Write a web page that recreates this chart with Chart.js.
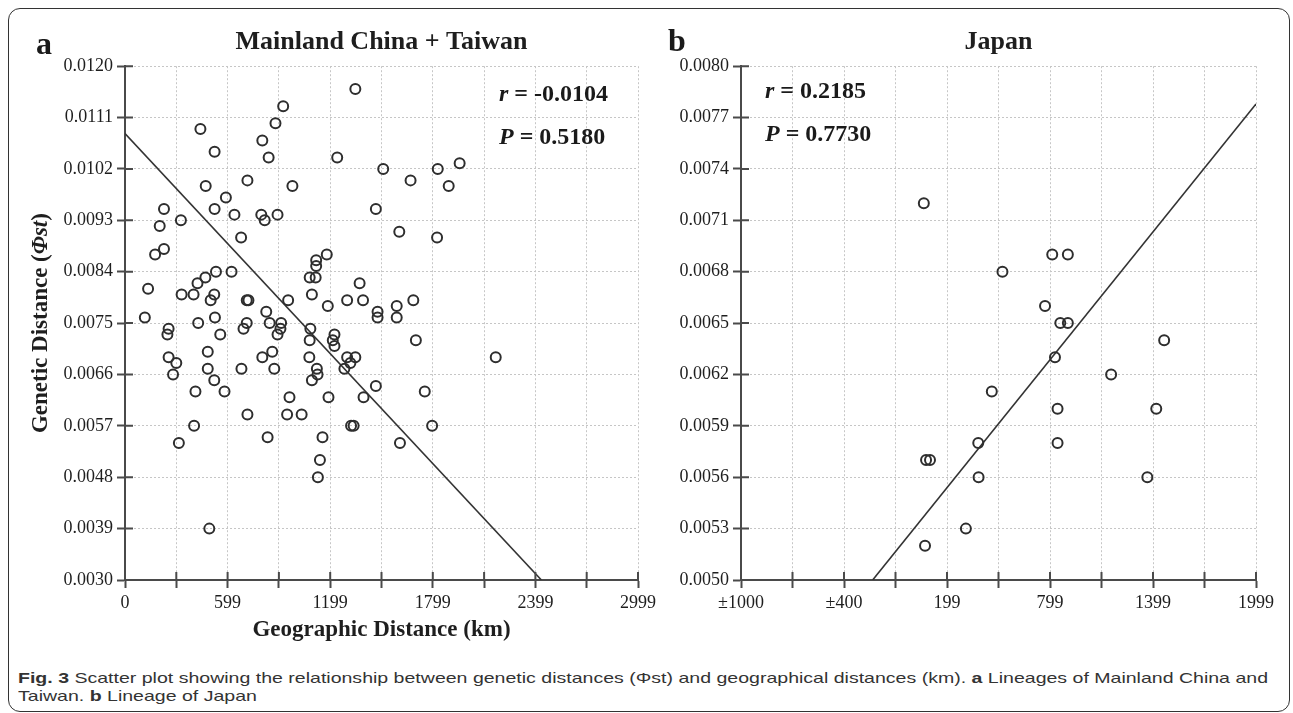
<!DOCTYPE html>
<html>
<head>
<meta charset="utf-8">
<script src="https://cdn.jsdelivr.net/npm/chart.js@4.4.1/dist/chart.umd.min.js"></script>
<style>
  body { margin: 0; background: #fff; }
  #page { position: relative; width: 1293px; height: 713px; overflow: hidden; background: #fff; }
  #frame { position: absolute; left: 8px; top: 8px; width: 1282px; height: 704px; border: 1.5px solid #333; border-radius: 12px; box-sizing: border-box; }
  canvas { position: absolute; top: 0; }
  .lbl { position: absolute; font-family: 'Liberation Serif', 'Times New Roman', serif; font-weight: bold; color: #1a1a1a; line-height: 1; white-space: nowrap; }
  .cap { position: absolute; left: 18px; font-family: 'Liberation Sans', Arial, sans-serif; font-size: 15px; line-height: 1; color: #333; white-space: nowrap; transform-origin: 0 0; }
</style>
</head>
<body>
<div id="page">
  <div id="frame"></div>
  <canvas id="chartA" width="660" height="650" style="left:0"></canvas>
  <canvas id="chartB" width="630" height="650" style="left:660px"></canvas>

  <div class="lbl" style="left:36px;top:27px;font-size:32px">a</div>
  <div class="lbl" style="left:668px;top:24px;font-size:32px">b</div>

  <div class="lbl" style="left:499px;top:81px;font-size:24px"><i>r</i> = -0.0104</div>
  <div class="lbl" style="left:499px;top:124px;font-size:24px"><i>P</i> = 0.5180</div>
  <div class="lbl" style="left:765px;top:78px;font-size:24px"><i>r</i> = 0.2185</div>
  <div class="lbl" style="left:765px;top:121px;font-size:24px"><i>P</i> = 0.7730</div>

  <div class="cap" id="cap1" style="top:670px"><b>Fig. 3</b> Scatter plot showing the relationship between genetic distances (Φst) and geographical distances (km). <b>a</b> Lineages of Mainland China and</div>
  <div class="cap" id="cap2" style="top:688px">Taiwan. <b>b</b> Lineage of Japan</div>
</div>

<script>
// panel a: Mainland China + Taiwan
const distA = [925, 441, 880, 803, 524, 840, 716, 472, 979, 590,
  228, 524, 640, 797, 817, 892, 327, 203, 679, 228,
  176, 532, 623, 470, 424, 135, 331, 401, 522, 501,
  712, 722, 954, 826, 116, 1080, 1115, 1118, 1118, 1180,
  1093, 1186, 1347, 1241, 1510, 1670, 1829, 1957, 1893, 1467,
  1604, 1825, 1372, 1299, 1392, 1686, 1477, 1477, 1589, 1589,
  255, 248, 428, 526, 557, 712, 693, 846, 913, 909,
  892, 1084, 1080, 255, 300, 281, 484, 484, 522, 412,
  582, 681, 803, 861, 873, 716, 948, 1033, 962, 1078,
  1122, 1126, 1093, 1190, 404, 315, 834, 1155, 1140, 1128,
  493, 1701, 2168, 1225, 1215, 1225, 1299, 1347, 1318, 1283,
  1395, 1467, 1753, 1322, 1337, 1796, 1608];
const phiA = [0.0113, 0.0109, 0.0110, 0.0107, 0.0105, 0.0104, 0.0100, 0.0099, 0.0099, 0.0097,
  0.0095, 0.0095, 0.0094, 0.0094, 0.0093, 0.0094, 0.0093, 0.0092, 0.0090, 0.0088,
  0.0087, 0.0084, 0.0084, 0.0083, 0.0082, 0.0081, 0.0080, 0.0080, 0.0080, 0.0079,
  0.0079, 0.0079, 0.0079, 0.0077, 0.0076, 0.0083, 0.0083, 0.0085, 0.0086, 0.0087,
  0.0080, 0.0078, 0.0116, 0.0104, 0.0102, 0.0100, 0.0102, 0.0103, 0.0099, 0.0095,
  0.0091, 0.0090, 0.0082, 0.0079, 0.0079, 0.0079, 0.0077, 0.0076, 0.0078, 0.0076,
  0.0074, 0.0073, 0.0075, 0.0076, 0.0073, 0.0075, 0.0074, 0.0075, 0.0075, 0.0074,
  0.0073, 0.0074, 0.0072, 0.0069, 0.0068, 0.0066, 0.0070, 0.0067, 0.0065, 0.0063,
  0.0063, 0.0067, 0.0069, 0.0070, 0.0067, 0.0059, 0.0059, 0.0059, 0.0062, 0.0069,
  0.0067, 0.0066, 0.0065, 0.0062, 0.0057, 0.0054, 0.0055, 0.0055, 0.0051, 0.0048,
  0.0039, 0.0072, 0.0069, 0.0073, 0.0072, 0.0071, 0.0069, 0.0069, 0.0068, 0.0067,
  0.0062, 0.0064, 0.0063, 0.0057, 0.0057, 0.0057, 0.0054];
const fitAx = [0, 2435];
const fitAy = [0.01082, 0.0030];

const xTicksA = [0, 300, 600, 900, 1200, 1500, 1800, 2100, 2400, 2700, 3000];
const xLabelsA = ['0', '', '599', '', '1199', '', '1799', '', '2399', '', '2999'];
const yTicksA = [0.0030, 0.0039, 0.0048, 0.0057, 0.0066, 0.0075, 0.0084, 0.0093, 0.0102, 0.0111, 0.0120];
const yLabelsA = ['0.0030', '0.0039', '0.0048', '0.0057', '0.0066', '0.0075', '0.0084', '0.0093', '0.0102', '0.0111', '0.0120'];

// panel b: Japan
const distB = [64, 812, 903, 522, 770, 859, 903, 1464, 828, 1155, 460, 843, 1418, 381, 843, 77, 100, 383, 1366, 309, 71];
const phiB = [0.0072, 0.0069, 0.0069, 0.0068, 0.0066, 0.0065, 0.0065, 0.0064, 0.0063, 0.0062, 0.0061,
  0.0060, 0.0060, 0.0058, 0.0058, 0.0057, 0.0057, 0.0056, 0.0056, 0.0053, 0.0052];
const fitBx = [-234, 1999];
const fitBy = [0.0050, 0.00778];

const xTicksB = [-1001, -701, -401, -101, 199, 499, 799, 1099, 1399, 1699, 1999];
const xLabelsB = ['±1000', '', '±400', '', '199', '', '799', '', '1399', '', '1999'];
const yTicksB = [0.0050, 0.0053, 0.0056, 0.0059, 0.0062, 0.0065, 0.0068, 0.0071, 0.0074, 0.0077, 0.0080];
const yLabelsB = ['0.0050', '0.0053', '0.0056', '0.0059', '0.0062', '0.0065', '0.0068', '0.0071', '0.0074', '0.0077', '0.0080'];

const serif = "'Liberation Serif', 'Times New Roman', serif";
const ink = '#1e1e1e';
const axisColor = '#4a4a4a';
const gridColor = '#c6c6c6';

function pts(xs, ys) {
  return xs.map((x, i) => ({ x: x, y: ys[i] }));
}

// short tick marks that cross the axis line (inside part)
const crossTicks = {
  id: 'crossTicks',
  afterDraw(chart) {
    const { ctx, chartArea, scales } = chart;
    ctx.save();
    ctx.strokeStyle = axisColor;
    ctx.lineWidth = 2;
    ctx.beginPath();
    scales.x.ticks.forEach((t, i) => {
      const px = scales.x.getPixelForTick(i);
      ctx.moveTo(px, chartArea.bottom);
      ctx.lineTo(px, chartArea.bottom - 8);
    });
    scales.y.ticks.forEach((t, i) => {
      const py = scales.y.getPixelForTick(i);
      ctx.moveTo(chartArea.left, py);
      ctx.lineTo(chartArea.left + 8, py);
    });
    ctx.stroke();
    ctx.restore();
  }
};

// y axis title with the italic Φst part
const yTitle = {
  id: 'yTitle',
  afterDraw(chart, args, opts) {
    if (!opts.parts) return;
    const { ctx, chartArea } = chart;
    const fonts = opts.parts.map(p => (p.italic ? 'italic ' : '') + 'bold 23px ' + serif);
    ctx.save();
    let total = 0;
    const widths = opts.parts.map((p, i) => { ctx.font = fonts[i]; const w = ctx.measureText(p.text).width; total += w; return w; });
    ctx.translate(opts.x, (chartArea.top + chartArea.bottom) / 2);
    ctx.rotate(-Math.PI / 2);
    ctx.fillStyle = ink;
    ctx.textBaseline = 'middle';
    let pos = -total / 2;
    opts.parts.forEach((p, i) => {
      ctx.font = fonts[i];
      ctx.fillText(p.text, pos, 0);
      pos += widths[i];
    });
    ctx.restore();
  }
};

function makeChart(id, o) {
  return new Chart(document.getElementById(id), {
    type: 'scatter',
    data: {
      datasets: [
        {
          data: pts(o.xs, o.ys),
          pointRadius: 5,
          pointHoverRadius: 5,
          pointBorderWidth: 2,
          borderColor: '#2e2e2e',
          backgroundColor: 'rgba(0,0,0,0)'
        },
        {
          data: pts(o.fitX, o.fitY),
          showLine: true,
          pointRadius: 0,
          borderColor: '#333',
          borderWidth: 1.6
        }
      ]
    },
    options: {
      responsive: false,
      animation: false,
      devicePixelRatio: 1,
      layout: { padding: { left: 0, right: o.padRight, top: 0, bottom: 0 } },
      plugins: {
        legend: { display: false },
        tooltip: { enabled: false },
        title: {
          display: true,
          text: o.title,
          fullSize: false,
          color: ink,
          font: { family: serif, size: 26, weight: 'bold' },
          padding: { top: 27, bottom: 8 }
        },
        yTitle: { x: 41, parts: o.yTitleParts }
      },
      scales: {
        x: {
          type: 'linear',
          min: o.xTicks[0],
          max: o.xTicks[o.xTicks.length - 1],
          afterBuildTicks: s => { s.ticks = o.xTicks.map(v => ({ value: v })); },
          afterFit: s => { s.height = 70; },
          ticks: {
            callback: (v, i) => o.xLabels[i],
            autoSkip: false,
            maxRotation: 0,
            padding: 4,
            color: ink,
            font: { family: serif, size: 18 }
          },
          grid: { color: gridColor, lineWidth: 1, tickLength: 8, tickColor: axisColor, tickWidth: 2 },
          border: { color: axisColor, width: 2, dash: [2, 2] },
          title: {
            display: o.xTitle !== '',
            text: o.xTitle,
            color: ink,
            font: { family: serif, size: 23, weight: 'bold' },
            padding: { top: 0, bottom: 6 }
          }
        },
        y: {
          type: 'linear',
          min: o.yTicks[0],
          max: o.yTicks[o.yTicks.length - 1],
          afterBuildTicks: s => { s.ticks = o.yTicks.map(v => ({ value: v })); },
          afterFit: s => { s.width = o.yWidth; },
          ticks: {
            callback: (v, i) => o.yLabels[i],
            padding: 4,
            color: ink,
            font: { family: serif, size: 18 }
          },
          grid: { color: gridColor, lineWidth: 1, tickLength: 8, tickColor: axisColor, tickWidth: 2 },
          border: { color: axisColor, width: 2, dash: [2, 2] }
        }
      }
    },
    plugins: [crossTicks, yTitle]
  });
}

makeChart('chartA', {
  xs: distA, ys: phiA, fitX: fitAx, fitY: fitAy,
  xTicks: xTicksA, xLabels: xLabelsA, yTicks: yTicksA, yLabels: yLabelsA,
  title: 'Mainland China + Taiwan',
  xTitle: 'Geographic Distance (km)',
  yTitleParts: [{ text: 'Genetic Distance (' }, { text: 'Φst', italic: true }, { text: ')' }],
  yWidth: 125, padRight: 20
});

makeChart('chartB', {
  xs: distB, ys: phiB, fitX: fitBx, fitY: fitBy,
  xTicks: xTicksB, xLabels: xLabelsB, yTicks: yTicksB, yLabels: yLabelsB,
  title: 'Japan',
  xTitle: '',
  yTitleParts: null,
  yWidth: 81, padRight: 34
});

// stretch caption so the first line spans the frame like the original
const cap1 = document.getElementById('cap1');
const cap2 = document.getElementById('cap2');
const k = 1250 / cap1.getBoundingClientRect().width;
cap1.style.transform = 'scaleX(' + k + ')';
cap2.style.transform = 'scaleX(' + k + ')';
</script>
</body>
</html>
